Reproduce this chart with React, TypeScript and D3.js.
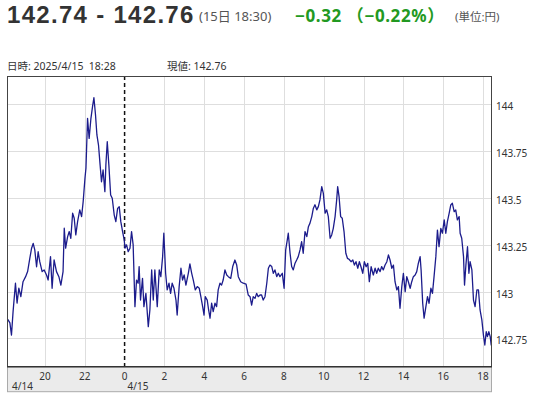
import { useEffect, useRef } from 'react';
import * as d3 from 'd3';

// hours relative to 4/15 00:00
const hours = [
  -5.93, -5.85, -5.76, -5.68, -5.6, -5.48, -5.4, -5.31, -5.21, -5.1, -4.97, -4.87, -4.76, -4.67, -4.59, -4.51,
  -4.42, -4.34, -4.26, -4.14, -4.04, -3.92, -3.84, -3.72, -3.64, -3.54, -3.42, -3.3, -3.2, -3.09, -3.03, -2.96,
  -2.86, -2.78, -2.7, -2.61, -2.53, -2.45, -2.36, -2.25, -2.16, -2.08, -1.99, -1.94, -1.86, -1.78, -1.69, -1.61,
  -1.54, -1.46, -1.39, -1.31, -1.23, -1.16, -1.08, -0.99, -0.94, -0.87, -0.79, -0.7, -0.62, -0.52, -0.44, -0.35,
  -0.27, -0.19, -0.1, -0.02, 0.02, 0.1, 0.18, 0.27, 0.35, 0.43, 0.52, 0.6, 0.68, 0.73, 0.8, 0.9,
  0.97, 1.07, 1.19, 1.27, 1.36, 1.44, 1.52, 1.64, 1.74, 1.82, 1.91, 1.97, 2.06, 2.14, 2.23, 2.31,
  2.39, 2.48, 2.58, 2.64, 2.74, 2.83, 2.91, 2.99, 3.08, 3.2, 3.28, 3.37, 3.45, 3.55, 3.65, 3.75,
  3.83, 3.92, 3.99, 4.05, 4.15, 4.22, 4.29, 4.37, 4.45, 4.54, 4.62, 4.7, 4.79, 4.87, 4.95, 5.04,
  5.13, 5.21, 5.33, 5.43, 5.54, 5.63, 5.71, 5.83, 5.96, 6.1, 6.21, 6.3, 6.38, 6.46, 6.55, 6.63,
  6.71, 6.8, 6.88, 6.96, 7.05, 7.14, 7.22, 7.3, 7.39, 7.47, 7.55, 7.64, 7.72, 7.8, 7.92, 8.01,
  8.09, 8.17, 8.22, 8.31, 8.39, 8.47, 8.56, 8.64, 8.72, 8.81, 8.89, 8.97, 9.06, 9.15, 9.23, 9.31,
  9.4, 9.48, 9.56, 9.65, 9.73, 9.81, 9.9, 9.98, 10.07, 10.15, 10.23, 10.32, 10.4, 10.48, 10.57, 10.65,
  10.7, 10.77, 10.85, 10.93, 11.02, 11.11, 11.19, 11.27, 11.37, 11.46, 11.54, 11.62, 11.71, 11.79, 11.87, 11.96,
  12.04, 12.13, 12.21, 12.29, 12.38, 12.49, 12.58, 12.66, 12.74, 12.83, 12.91, 12.99, 13.08, 13.17, 13.25, 13.33,
  13.42, 13.5, 13.58, 13.67, 13.75, 13.83, 13.92, 14.0, 14.09, 14.17, 14.25, 14.34, 14.42, 14.5, 14.59, 14.67,
  14.75, 14.84, 14.89, 14.97, 15.04, 15.13, 15.21, 15.29, 15.38, 15.46, 15.54, 15.63, 15.71, 15.79, 15.88, 15.96,
  16.05, 16.13, 16.21, 16.3, 16.38, 16.46, 16.55, 16.63, 16.71, 16.8, 16.85, 16.93, 17.02, 17.07, 17.14, 17.22,
  17.29, 17.35, 17.44, 17.52, 17.6, 17.69, 17.77, 17.85, 17.94, 18.02, 18.09, 18.16, 18.22, 18.29, 18.36, 18.41,
  18.45,
];

const prices = [
  142.858, 142.849, 142.833, 142.768, 142.893, 143.045, 142.939, 143.019, 142.973, 143.053, 143.08, 143.107, 143.178, 143.232, 143.258, 143.223,
  143.133, 143.213, 143.16, 143.107, 143.116, 143.089, 143.062, 143.187, 143.018, 143.169, 143.107, 143.08, 143.035, 143.107, 143.339, 143.232,
  143.294, 143.321, 143.285, 143.419, 143.392, 143.303, 143.374, 143.437, 143.401, 143.481, 143.606, 143.66, 143.926, 143.819, 143.926, 143.988,
  144.036, 143.944, 143.837, 143.783, 143.677, 143.587, 143.65, 143.534, 143.677, 143.801, 143.677, 143.516, 143.499, 143.409, 143.374, 143.445,
  143.454, 143.374, 143.321, 143.277, 143.232, 143.25, 143.214, 143.232, 143.321, 143.25, 142.92, 143.062, 143.045, 143.134, 142.955, 143.071,
  142.92, 142.991, 142.813, 142.902, 143.116, 142.955, 143.116, 142.92, 143.116, 143.08, 143.187, 143.312, 143.098, 143.009, 143.045, 142.991,
  143.045, 143.018, 142.955, 142.875, 143.027, 143.125, 143.062, 143.089, 143.035, 143.098, 143.148, 143.098, 143.062, 143.009, 143.027, 143.018,
  142.973, 142.92, 142.875, 142.973, 142.955, 142.902, 142.858, 142.938, 142.893, 142.938, 142.92, 143.009, 143.045, 143.035, 143.062, 143.116,
  143.089, 143.08, 143.071, 143.134, 143.169, 143.142, 143.08, 143.053, 143.045, 143.04, 142.982, 142.973, 142.928, 142.973, 142.964, 142.991,
  142.973, 142.982, 142.982, 142.955, 142.973, 143.045, 143.125, 143.142, 143.134, 143.098, 143.116, 143.08, 143.098, 143.08, 143.098, 143.018,
  143.223, 143.276, 143.312, 143.205, 143.134, 143.116, 143.152, 143.169, 143.187, 143.223, 143.267, 143.205, 143.321, 143.294, 143.347, 143.366,
  143.401, 143.446, 143.464, 143.437, 143.454, 143.49, 143.561, 143.525, 143.419, 143.437, 143.401, 143.285, 143.303, 143.338, 143.401, 143.49,
  143.561, 143.508, 143.401, 143.392, 143.321, 143.205, 143.178, 143.173, 143.16, 143.169, 143.142, 143.16, 143.125, 143.16, 143.133, 143.098,
  143.16, 143.133, 143.151, 143.053, 143.133, 143.089, 143.125, 143.098, 143.125, 143.107, 143.134, 143.116, 143.142, 143.16, 143.196, 143.169,
  143.125, 143.142, 143.053, 143.009, 143.027, 142.911, 143.027, 143.098, 143.0, 143.08, 143.053, 143.018, 143.053, 143.08, 143.089, 143.107,
  143.151, 143.187, 143.116, 142.938, 142.858, 142.92, 142.973, 142.938, 143.018, 142.991, 143.08, 143.187, 143.329, 143.24, 143.338, 143.312,
  143.383, 143.312, 143.374, 143.419, 143.463, 143.472, 143.427, 143.436, 143.383, 143.401, 143.312, 143.285, 143.187, 143.035, 143.142, 143.24,
  143.098, 143.16, 143.116, 142.955, 142.92, 143.009, 143.009, 142.902, 142.849, 142.768, 142.715, 142.786, 142.76, 142.786, 142.76, 142.715,
  142.76,
];

const yTicks = [142.75, 143, 143.25, 143.5, 143.75, 144];
const xTicks = [-4, -2, 0, 2, 4, 6, 8, 10, 12, 14, 16, 18];
const xTickLabels = ['20', '22', '0', '2', '4', '6', '8', '10', '12', '14', '16', '18'];
const dateLabels = ['4/14', '4/15'];
const dateHours = [-5.905, 0];

const FONT = '"Noto Sans", "Noto Sans CJK JP", sans-serif';

export default function App() {
  const svgRef = useRef<SVGSVGElement>(null);

  useEffect(() => {
    const width = 539;
    const height = 400;
    const plot = { left: 7, right: 492, top: 76, bottom: 366.7 };
    const bandBottom = 391.7;

    const x = d3.scaleLinear().domain([-5.905, 18.45]).range([plot.left, plot.right]);
    const y = d3
      .scaleLinear()
      .domain([142.599, 144.152])
      .range([plot.bottom, plot.top]);

    const svg = d3.select(svgRef.current);
    svg.selectAll('*').remove();
    svg.attr('width', width).attr('height', height);

    svg.append('rect').attr('width', width).attr('height', height).attr('fill', '#fff');

    // Header
    const head = svg.append('g').style('font-family', FONT);
    head
      .append('text')
      .attr('x', 7)
      .attr('y', 22.5)
      .attr('font-size', 24)
      .attr('font-weight', 'bold')
      .attr('letter-spacing', 1.3)
      .attr('fill', '#333')
      .style('font-family', '"Liberation Sans", Arial, sans-serif')
      .text('142.74 - 142.76');
    head
      .append('text')
      .attr('x', 199)
      .attr('y', 21)
      .attr('font-size', 13)
      .attr('fill', '#555')
      .text('(15日 18:30)');
    head
      .append('text')
      .attr('x', 295)
      .attr('y', 21.7)
      .attr('font-size', 17)
      .attr('font-weight', 'bold')
      .attr('letter-spacing', 0.6)
      .attr('fill', '#229922')
      .text('−0.32 （−0.22%）');
    head
      .append('text')
      .attr('x', 455)
      .attr('y', 21)
      .attr('font-size', 11.5)
      .attr('fill', '#555')
      .text('(単位:円)');

    // Info line
    head
      .append('text')
      .attr('x', 7)
      .attr('y', 69.5)
      .attr('font-size', 10.5)
      .attr('fill', '#333')
      .style('white-space', 'pre')
      .text('日時: 2025/4/15  18:28');
    head
      .append('text')
      .attr('x', 167)
      .attr('y', 69.5)
      .attr('font-size', 10.5)
      .attr('fill', '#333')
      .text('現値: 142.76');

    // Grid
    const grid = svg.append('g').attr('stroke', '#dedede').attr('stroke-width', 1);
    grid
      .selectAll('line.h')
      .data(yTicks)
      .enter()
      .append('line')
      .attr('x1', plot.left)
      .attr('x2', plot.right)
      .attr('y1', d => Math.round(y(d)) + 0.5)
      .attr('y2', d => Math.round(y(d)) + 0.5);
    grid
      .selectAll('line.v')
      .data(xTicks.filter(d => d !== 0))
      .enter()
      .append('line')
      .attr('x1', d => Math.round(x(d)) + 0.5)
      .attr('x2', d => Math.round(x(d)) + 0.5)
      .attr('y1', plot.top)
      .attr('y2', plot.bottom);

    // Date boundary
    svg
      .append('line')
      .attr('x1', x(0))
      .attr('x2', x(0))
      .attr('y1', plot.top)
      .attr('y2', plot.bottom)
      .attr('stroke', '#111')
      .attr('stroke-width', 1.5)
      .attr('stroke-dasharray', '4,3');

    // Price line
    svg
      .append('clipPath')
      .attr('id', 'plot-clip')
      .append('rect')
      .attr('x', plot.left)
      .attr('y', plot.top)
      .attr('width', plot.right - plot.left)
      .attr('height', plot.bottom - plot.top);

    const line = d3
      .line<number>()
      .x((_, i) => x(hours[i]))
      .y(d => y(d));

    svg
      .append('path')
      .datum(prices)
      .attr('clip-path', 'url(#plot-clip)')
      .attr('d', line)
      .attr('fill', 'none')
      .attr('stroke', '#1c1c8c')
      .attr('stroke-width', 1.3)
      .attr('stroke-linejoin', 'round');

    // Frame
    svg
      .append('rect')
      .attr('x', plot.left + 0.5)
      .attr('y', plot.top + 0.5)
      .attr('width', plot.right - plot.left - 1)
      .attr('height', plot.bottom - plot.top)
      .attr('fill', 'none')
      .attr('stroke', '#444');

    // Axis band
    svg
      .append('rect')
      .attr('x', plot.left + 0.5)
      .attr('y', plot.bottom)
      .attr('width', plot.right - plot.left - 1)
      .attr('height', bandBottom - plot.bottom)
      .attr('fill', '#ebebeb')
      .attr('stroke', '#aaa');
    svg
      .append('line')
      .attr('x1', plot.left)
      .attr('x2', plot.right)
      .attr('y1', plot.bottom)
      .attr('y2', plot.bottom)
      .attr('stroke', '#333')
      .attr('stroke-width', 1.5);

    // X tick labels
    const axis = svg.append('g').style('font-family', FONT).attr('font-size', 10).attr('fill', '#333');
    axis
      .selectAll('text.t')
      .data(xTicks)
      .enter()
      .append('text')
      .attr('x', d => x(d))
      .attr('y', 380)
      .attr('text-anchor', 'middle')
      .text((_, i) => xTickLabels[i]);
    axis
      .selectAll('text.d')
      .data(dateHours)
      .enter()
      .append('text')
      .attr('x', d => x(d) + (d === 0 ? 3 : 5))
      .attr('y', 390)
      .text((_, i) => dateLabels[i]);

    // Y tick labels
    axis
      .selectAll('text.y')
      .data(yTicks)
      .enter()
      .append('text')
      .attr('x', 496)
      .attr('y', d => y(d) + 6)
      .text(d => String(d));
  }, []);

  return (
    <svg
      ref={svgRef}
      width={539}
      height={400}
      style={{ position: 'absolute', left: 0, top: 0, display: 'block' }}
    ></svg>
  );
}
